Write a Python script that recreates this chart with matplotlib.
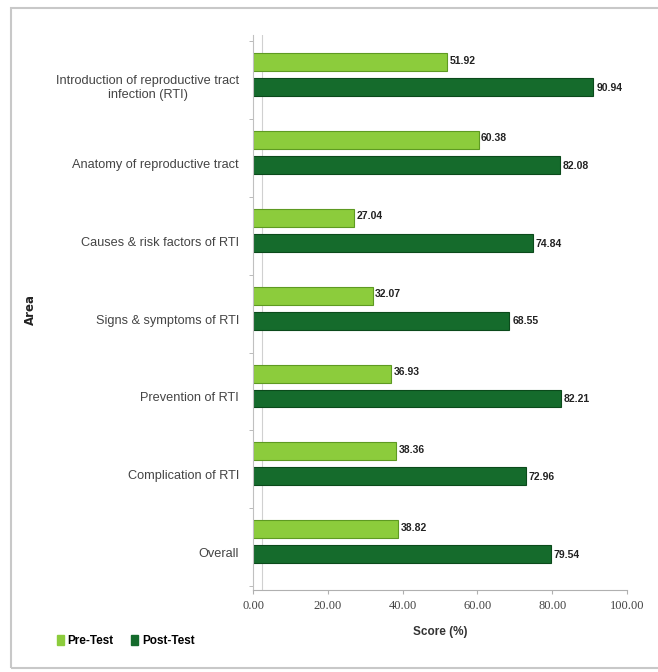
import matplotlib
matplotlib.use("Agg")
import matplotlib.pyplot as plt
from matplotlib.patches import Rectangle, Patch
import numpy as np

categories = [
    "Introduction of reproductive tract\ninfection (RTI)",
    "Anatomy of reproductive tract",
    "Causes & risk factors of RTI",
    "Signs & symptoms of RTI",
    "Prevention of RTI",
    "Complication of RTI",
    "Overall",
]
pre_test = [51.92, 60.38, 27.04, 32.07, 36.93, 38.36, 38.82]
post_test = [90.94, 82.08, 74.84, 68.55, 82.21, 72.96, 79.54]
x_ticks = [0, 20, 40, 60, 80, 100]
x_tick_labels = ["0.00", "20.00", "40.00", "60.00", "80.00", "100.00"]

FONT = ["Liberation Sans", "DejaVu Sans"]
plt.rcParams["font.family"] = FONT

fig = plt.figure(figsize=(6.58, 6.72), dpi=100)
# outer frame
fig.patches.append(Rectangle((0.016, 0.006), 0.99, 0.982, transform=fig.transFigure,
                             fill=False, edgecolor="#c8c8c8", linewidth=1.5))

ax = fig.add_axes([0.3845, 0.122, 0.5685, 0.826])
y = np.arange(len(categories))
h = 0.23
off = 0.16
pre_c = "#8ccc3c"
post_c = "#156b2c"
ax.barh(y - off, pre_test, height=h, color=pre_c, edgecolor="#5e9a22", linewidth=0.8)
ax.barh(y + off, post_test, height=h, color=post_c, edgecolor="#0b4a1b", linewidth=0.8)

for yi, v in zip(y, pre_test):
    ax.text(v + 0.6, yi - off - 0.02, f"{v:.2f}", va="center", ha="left",
            fontsize=7.5, fontweight="bold", color="#222222")
for yi, v in zip(y, post_test):
    ax.text(v + 0.8, yi + off + 0.01, f"{v:.2f}", va="center", ha="left",
            fontsize=7.5, fontweight="bold", color="#222222")

ax.set_ylim(6.62, -0.51)
ax.set_xlim(0, 100)
# labels sit slightly lower (3D perspective of the original)
ax.set_yticks(y + 0.14)
ax.set_yticklabels(categories, fontsize=9.2, color="#444444")
ax.set_yticks(np.arange(-0.5, 7, 1) + 0.07, minor=True)
ax.tick_params(axis="y", which="major", length=0, pad=10)
ax.tick_params(axis="y", which="minor", length=3, color="#b0b0b0")
for lbl in ax.get_yticklabels():
    lbl.set_multialignment("center")

ax.set_xticks(x_ticks)
ax.set_xticklabels(x_tick_labels, fontsize=9, color="#444444",
                   family=["Liberation Serif", "DejaVu Serif"])
ax.tick_params(axis="x", length=3, color="#b0b0b0", pad=4)

for s in ["top", "right"]:
    ax.spines[s].set_visible(False)
ax.spines["left"].set_color("#c0c0c0")
ax.spines["bottom"].set_color("#b0b0b0")
# back wall line
ax.axvline(2.5, color="#d0d0d0", linewidth=0.8, zorder=0)

ax.set_xlabel("Score (%)", fontsize=8.5, fontweight="bold", color="#333333", labelpad=10)
fig.text(0.047, 0.54, "Area", rotation=90, fontsize=8.5, fontweight="bold",
         color="#222222", ha="center", va="center", family=["DejaVu Sans"])

handles = [Patch(color=pre_c, label="Pre-Test"), Patch(color=post_c, label="Post-Test")]
fig.legend(handles=handles, loc="center left", bbox_to_anchor=(0.07, 0.046), ncol=2,
           frameon=False, handlelength=0.6, handleheight=0.8,
           handletextpad=0.3, columnspacing=1.5, prop={"weight": "bold", "size": 8.5})

fig.savefig("out.png", dpi=100)
